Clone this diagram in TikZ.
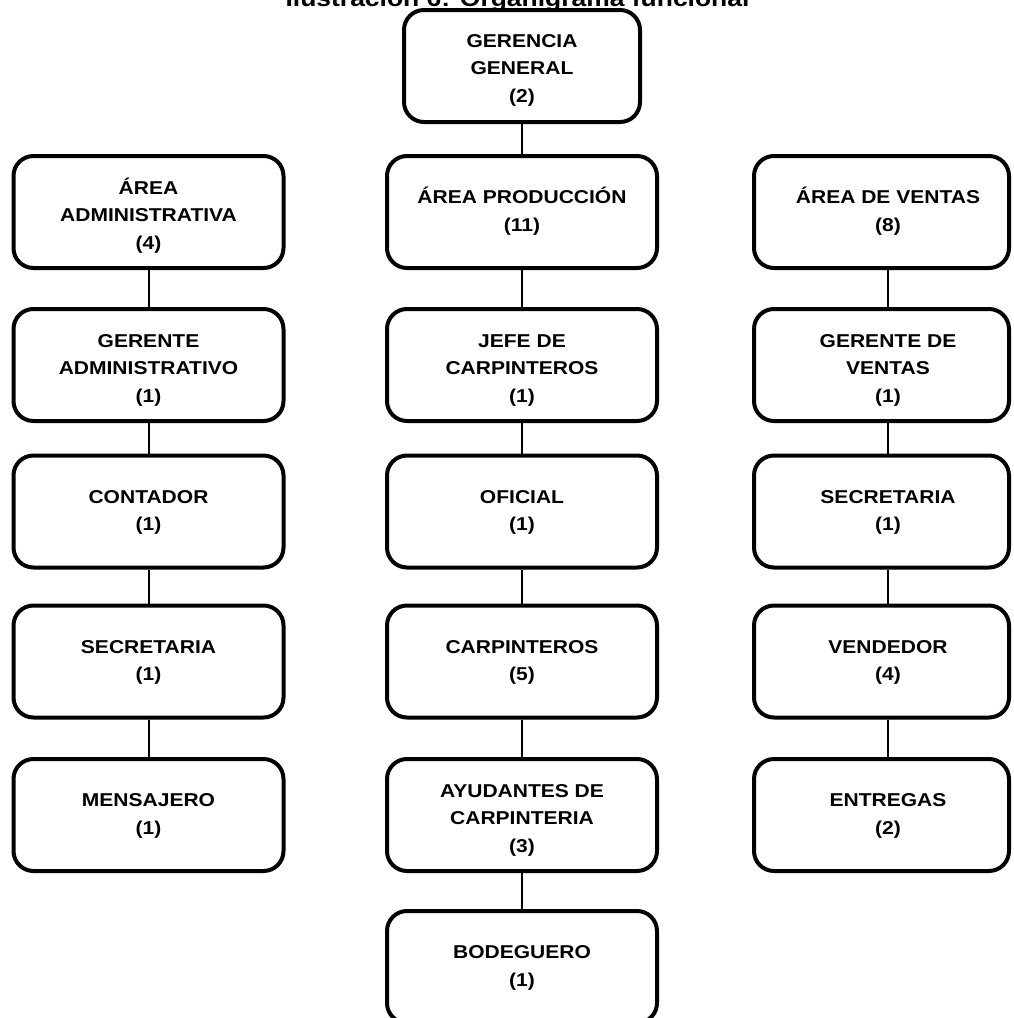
\documentclass[tikz,border=0pt]{standalone}
\usepackage{fontspec}
\setmainfont{Liberation Sans}[FakeStretch=1.13]
\newcommand\boxfont{\fontsize{18.6}{27.5}\selectfont\bfseries}
\newcommand\titlefont{\fontsize{23.4}{28}\selectfont\bfseries}
% centred lines, moved right by #1/2 and down by #2 inside the box
\newcommand\boxtext[3]{\hspace*{#1}\raisebox{-#2}[\height][\depth]{\begin{tabular}{@{}c@{}}#3\end{tabular}}}
\tikzset{
  unitbox/.style={draw, line width=4pt, rounded corners=20pt,
    minimum width=270pt, minimum height=112pt, inner sep=0pt,
    font=\boxfont},
  salesbox/.style={unitbox, minimum width=255pt},
  link/.style={line width=2pt}
}
\begin{document}
\begin{tikzpicture}[x=1pt, y=-1pt]
\useasboundingbox (0,0) rectangle (1013,1018);

% caption (partly above the page edge)
\node[font=\titlefont, anchor=base, inner sep=0pt] (title) at (517.5,6) {Ilustración 6: Organigrama funcional};

% head of the company
\node[unitbox, minimum width=236pt] (top) at (522,66) {\boxtext{0pt}{3pt}{GERENCIA\\GENERAL\\(2)}};

% administrative column
\node[unitbox] (a1) at (148.5,212) {\boxtext{0pt}{4pt}{ÁREA\\ADMINISTRATIVA\\(4)}};
\node[unitbox] (a2) at (148.5,365) {\boxtext{0pt}{4pt}{GERENTE\\ADMINISTRATIVO\\(1)}};
\node[unitbox] (a3) at (148.5,511.5) {\boxtext{0pt}{0pt}{CONTADOR\\(1)}};
\node[unitbox] (a4) at (148.5,661.5) {\boxtext{0pt}{0pt}{SECRETARIA\\(1)}};
\node[unitbox] (a5) at (148.5,815) {\boxtext{0pt}{0pt}{MENSAJERO\\(1)}};

% production column
\node[unitbox] (p1) at (522,212) {\boxtext{0pt}{0pt}{ÁREA PRODUCCIÓN\\(11)}};
\node[unitbox] (p2) at (522,365) {\boxtext{0pt}{4pt}{JEFE DE\\CARPINTEROS\\(1)}};
\node[unitbox] (p3) at (522,511.5) {\boxtext{0pt}{0pt}{OFICIAL\\(1)}};
\node[unitbox] (p4) at (522,661.5) {\boxtext{0pt}{0pt}{CARPINTEROS\\(5)}};
\node[unitbox] (p5) at (522,815) {\boxtext{0pt}{4pt}{AYUDANTES DE\\CARPINTERIA\\(3)}};
\node[unitbox] (p6) at (522,967) {\boxtext{0pt}{0pt}{BODEGUERO\\(1)}};

% sales column (boxes end at the right page edge)
\node[salesbox] (v1) at (881.5,212) {\boxtext{13pt}{0pt}{ÁREA DE VENTAS\\(8)}};
\node[salesbox] (v2) at (881.5,365) {\boxtext{13pt}{4pt}{GERENTE DE\\VENTAS\\(1)}};
\node[salesbox] (v3) at (881.5,511.5) {\boxtext{13pt}{0pt}{SECRETARIA\\(1)}};
\node[salesbox] (v4) at (881.5,661.5) {\boxtext{13pt}{0pt}{VENDEDOR\\(4)}};
\node[salesbox] (v5) at (881.5,815) {\boxtext{13pt}{0pt}{ENTREGAS\\(2)}};

% connectors
\draw[link] (top) -- (p1);
\draw[link] (a1) -- (a2);
\draw[link] (a2) -- (a3);
\draw[link] (a3) -- (a4);
\draw[link] (a4) -- (a5);
\draw[link] (p1) -- (p2);
\draw[link] (p2) -- (p3);
\draw[link] (p3) -- (p4);
\draw[link] (p4) -- (p5);
\draw[link] (p5) -- (p6);
\draw[link] ([xshift=6.5pt]v1.south) -- ([xshift=6.5pt]v2.north);
\draw[link] ([xshift=6.5pt]v2.south) -- ([xshift=6.5pt]v3.north);
\draw[link] ([xshift=6.5pt]v3.south) -- ([xshift=6.5pt]v4.north);
\draw[link] ([xshift=6.5pt]v4.south) -- ([xshift=6.5pt]v5.north);
\end{tikzpicture}
\end{document}
